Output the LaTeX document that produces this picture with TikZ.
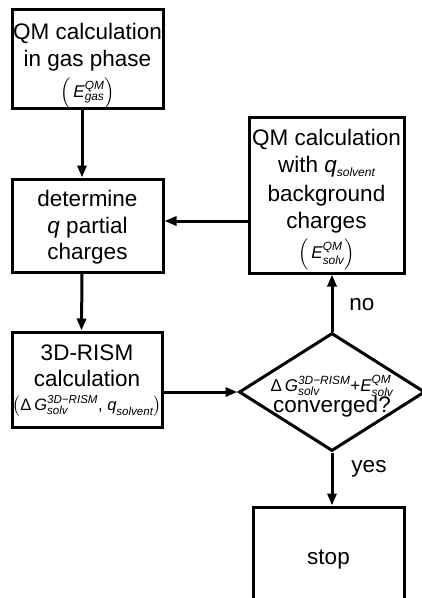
\documentclass[tikz,border=0pt]{standalone}
\usepackage{fontspec}
\usepackage{amsmath}
\setmainfont{Liberation Sans}
\usetikzlibrary{shapes.geometric,arrows.meta}
\newcommand{\supsub}[2]{^{\text{\itshape #1}}_{\text{\itshape #2}}}
\newcommand{\fml}{\fontsize{17}{20}\selectfont}
\newcommand{\vit}[1]{\text{\itshape #1}}
\newcommand{\topstrut}[1]{\rule{0pt}{#1}}
\begin{document}
\begin{tikzpicture}[x=1pt,y=1pt,
  box/.style={draw, line width=3pt, inner sep=0pt, align=center,
    font=\fontsize{22.5}{26.5}\selectfont},
  dia/.style={draw, line width=3pt, diamond, inner sep=0pt},
  lbl/.style={font=\fontsize{22.5}{26}\selectfont, inner sep=0pt},
  arr/.style={line width=3pt, -{Triangle[length=12pt,width=9pt]}}]
\useasboundingbox (0,0) rectangle (422,-598);
\node[box, minimum width=151pt, minimum height=94pt] (b1) at (87.5,-59)
  {\topstrut{30pt}QM calculation\\[1pt]in gas phase\\[4pt]{\fml$\left(\,\vit{E}\supsub{QM}{gas}\right)$}};
\node[box, minimum width=151pt, minimum height=93pt] (b2) at (87.5,-225.5)
  {\topstrut{20pt}determine\\\textit{q} partial\\charges};
\node[box, minimum width=150pt, minimum height=95pt] (b3) at (87,-379.5)
  {\topstrut{18pt}3D-RISM\\calculation\\[-3pt]{\fontsize{16.5}{20}\selectfont$\left(\text{Δ}\,\vit{G}\supsub{3D−RISM}{solv}\text{, }\vit{q}\supsub{}{solvent}\right)$}};
\node[box, minimum width=155pt, minimum height=156pt] (rb) at (326.5,-195)
  {\topstrut{26pt}QM calculation\\[0pt]with \textit{q}\raisebox{-4pt}{\fontsize{12}{12}\selectfont\itshape solvent}\\[3pt]background\\charges\\[4pt]{\fml$\left(\,\vit{E}\supsub{QM}{solv}\right)$}};
\node[dia, minimum width=186pt, minimum height=118pt] (d) at (332,-392) {};
\node[lbl, align=center] (dt) at (332,-396)
  {{\fml$\text{Δ}\,\vit{G}\supsub{3D−RISM}{solv}\text{+}\vit{E}\supsub{QM}{solv}$}\\[-5pt]converged?};
\node[box, minimum width=151pt, minimum height=100pt] (st) at (328.5,-557) {\topstrut{20pt}stop};
\node[lbl] (no) at (362,-305) {no};
\node[lbl] (yes) at (369,-469) {yes};
\draw[arr] ([xshift=-5.5pt]b1.south) -- ([xshift=-5.5pt]b2.north);
\draw[arr] ([xshift=-5.5pt]b2.south) -- ([xshift=-5.5pt]b3.north);
\draw[arr] (b3.east |- d.west) -- (d.west);
\draw[arr] (d.north) -- (d.north |- rb.south);
\draw[arr] ([yshift=4.5pt]rb.west |- b2.east) -- ([yshift=4.5pt]b2.east);
\draw[arr] (d.south) -- (d.south |- st.north);
\end{tikzpicture}
\end{document}
